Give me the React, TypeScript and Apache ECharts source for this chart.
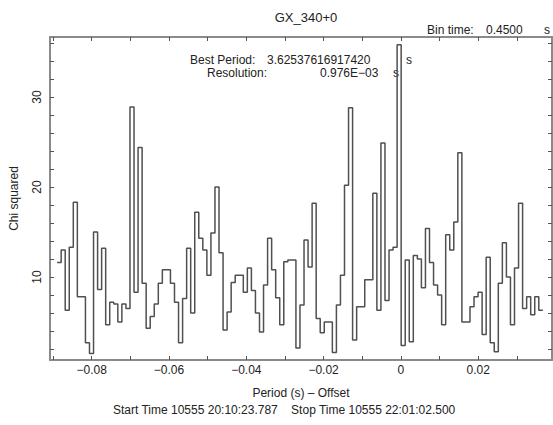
import React, { useEffect, useRef } from "react";
import * as echarts from "echarts";

// Chi-squared per trial period bin (left to right)
const chiSquared = [
  11.6, 13.0, 6.3, 13.3, 18.3, 7.8, 7.8, 2.7, 1.5, 15.0,
  8.6, 13.2, 4.7, 7.2, 7.0, 5.0, 7.0, 6.5, 28.9, 8.3,
  24.4, 9.3, 4.3, 5.6, 7.0, 9.3, 10.8, 10.8, 9.3, 7.2,
  2.7, 7.6, 13.2, 6.0, 17.2, 14.3, 13.0, 10.2, 14.9, 20.0,
  12.7, 4.1, 6.1, 9.4, 10.2, 10.2, 8.3, 11.0, 8.5, 6.0,
  3.9, 9.1, 14.3, 10.8, 7.7, 4.7, 11.7, 11.9, 11.9, 2.1,
  6.9, 14.1, 11.1, 18.2, 5.4, 3.8, 5.0, 5.0, 1.6, 6.9,
  10.2, 20.2, 28.8, 3.0, 6.7, 6.7, 9.7, 9.7, 19.3, 6.3,
  24.9, 7.4, 13.0, 13.3, 35.8, 2.4, 11.9, 2.8, 12.4, 12.0,
  8.8, 15.4, 11.6, 9.1, 8.0, 4.7, 14.7, 13.0, 16.1, 23.8,
  5.0, 5.0, 6.7, 7.8, 8.3, 3.6, 12.2, 2.7, 1.7, 9.3,
  13.8, 10.0, 4.7, 11.0, 18.2, 6.5, 7.8, 5.8, 7.8, 6.3,
];
const periodStart = -0.08896; // left edge of first bin (s, offset)
const periodStep = 0.0010474; // bin width (s)

const xLabelValues = [-0.08, -0.06, -0.04, -0.02, 0, 0.02];
const xTickValues = [-0.09, -0.08, -0.07, -0.06, -0.05, -0.04, -0.03, -0.02, -0.01, 0, 0.01, 0.02, 0.03];
const yLabelValues = [10, 20, 30];
const yTickValues = [2, 4, 6, 8, 10, 12, 14, 16, 18, 20, 22, 24, 26, 28, 30, 32, 34, 36];

const titleText = "GX_340+0";
const xName = "Period (s) \u2013 Offset";
const yName = "Chi squared";
const binTimeLabel = "Bin time:";
const binTimeValue = "0.4500";
const bestPeriodLabel = "Best Period:";
const bestPeriodValue = "3.62537616917420";
const resolutionLabel = "Resolution:";
const resolutionValue = "0.976E\u221203";
const unit = "s";
const footerText = "Start Time 10555 20:10:23.787    Stop Time 10555 22:01:02.500";

const FONT = "'Liberation Sans', Arial, sans-serif";

export default function App() {
  const ref = useRef<HTMLDivElement>(null);
  useEffect(() => {
    if (!ref.current) return;
    const chart = echarts.init(ref.current, null, { renderer: "svg" });

    const points: [number, number][] = chiSquared.map((v, i) => [periodStart + i * periodStep, v]);
    points.push([periodStart + chiSquared.length * periodStep, chiSquared[chiSquared.length - 1]]);

    const fmtX = (v: number) => {
      if (Math.abs(v) < 1e-9) return "0";
      return v < 0 ? "\u2212" + Math.abs(v).toFixed(2) : v.toFixed(2);
    };

    const xMin = -0.0908;
    const xMax = 0.0391;
    const yMin = 0.78;
    const yMax = 36.67;
    const lineStyle = { color: "#8a8a8a", width: 2 };
    const tickStyle = { color: "#555", width: 1 };
    const txt = { fill: "#222", fontFamily: FONT, fontSize: 12 };

    chart.setOption({
      animation: false,
      backgroundColor: "#fff",
      title: {
        text: titleText,
        left: 301,
        top: 6,
        textAlign: "center",
        textStyle: { fontFamily: FONT, fontSize: 13, fontWeight: "normal", color: "#222" },
      },
      grid: { left: 50, right: 1, top: 37, bottom: 65 },
      xAxis: [
        {
          type: "value",
          position: "bottom",
          min: xMin,
          max: xMax,
          axisLine: { show: true, onZero: false, lineStyle },
          axisTick: { show: true, inside: true, length: 4, lineStyle: tickStyle, customValues: xTickValues },
          axisLabel: {
            show: true,
            customValues: xLabelValues,
            formatter: fmtX,
            margin: 4,
            color: "#222",
            fontFamily: FONT,
            fontSize: 12,
          },
          splitLine: { show: false },
          name: xName,
          nameLocation: "middle",
          nameGap: 27,
          nameTextStyle: { color: "#222", fontFamily: FONT, fontSize: 12 },
        },
        {
          type: "value",
          position: "top",
          min: xMin,
          max: xMax,
          axisLine: { show: true, onZero: false, lineStyle },
          axisTick: { show: true, inside: true, length: 4, lineStyle: tickStyle, customValues: xTickValues },
          axisLabel: { show: false },
          splitLine: { show: false },
        },
      ],
      yAxis: [
        {
          type: "value",
          position: "left",
          min: yMin,
          max: yMax,
          axisLine: { show: true, onZero: false, lineStyle },
          axisTick: { show: true, inside: true, length: 4, lineStyle: tickStyle, customValues: yTickValues },
          axisLabel: {
            show: true,
            customValues: yLabelValues,
            rotate: 90,
            margin: 7,
            color: "#222",
            fontFamily: FONT,
            fontSize: 12,
          },
          splitLine: { show: false },
          name: yName,
          nameLocation: "middle",
          nameGap: 30,
          nameRotate: 90,
          nameTextStyle: { color: "#222", fontFamily: FONT, fontSize: 12 },
        },
        {
          type: "value",
          position: "right",
          min: yMin,
          max: yMax,
          axisLine: { show: true, onZero: false, lineStyle },
          axisTick: { show: true, inside: true, length: 4, lineStyle: tickStyle, customValues: yTickValues },
          axisLabel: { show: false },
          splitLine: { show: false },
        },
      ],
      series: [
        {
          type: "line",
          xAxisIndex: 0,
          yAxisIndex: 0,
          step: "end",
          data: points,
          symbol: "none",
          lineStyle: { color: "#505050", width: 1.5 },
          clip: true,
        },
      ],
      graphic: [
        { type: "text", left: 427, top: 24, style: { ...txt, text: binTimeLabel } },
        { type: "text", left: 486, top: 24, style: { ...txt, text: binTimeValue } },
        { type: "text", left: 544, top: 24, style: { ...txt, text: unit } },
        { type: "text", left: 190, top: 54, style: { ...txt, text: bestPeriodLabel } },
        { type: "text", left: 267, top: 54, style: { ...txt, text: bestPeriodValue } },
        { type: "text", left: 406, top: 54, style: { ...txt, text: unit } },
        { type: "text", left: 207, top: 67, style: { ...txt, text: resolutionLabel } },
        { type: "text", left: 320, top: 67, style: { ...txt, text: resolutionValue } },
        { type: "text", left: 393, top: 67, style: { ...txt, text: unit } },
        { type: "text", left: 113, top: 404, style: { ...txt, text: footerText } },
      ],
    });
    return () => chart.dispose();
  }, []);

  return (
    <div
      ref={ref}
      style={{ position: "fixed", left: 0, top: 0, width: 553, height: 425, background: "#fff", overflow: "hidden" }}
    />
  );
}
